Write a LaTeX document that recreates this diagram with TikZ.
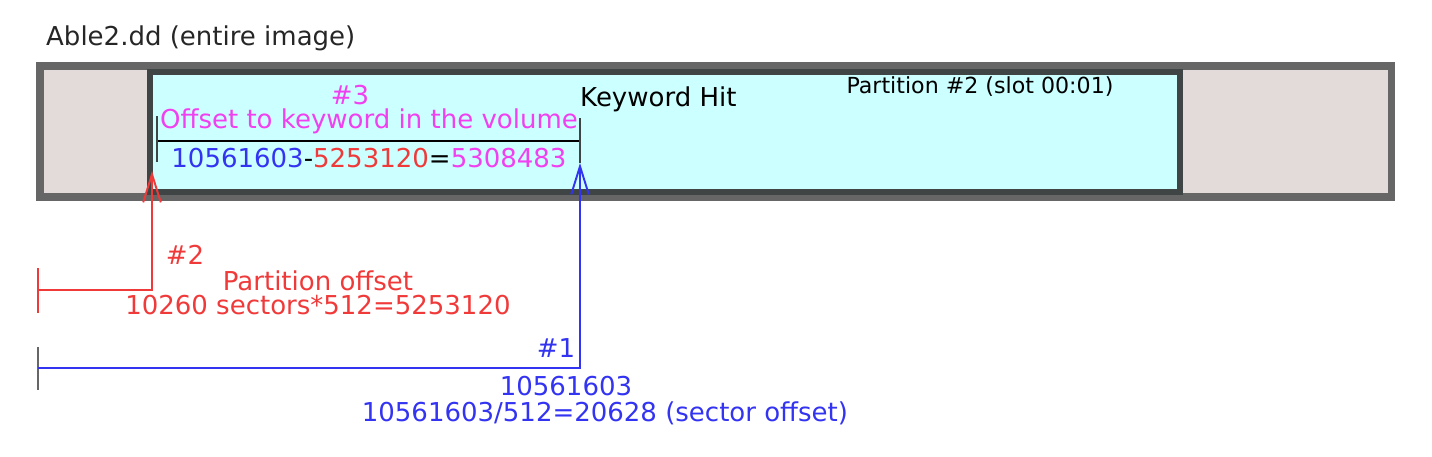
\documentclass[tikz,border=0pt]{standalone}
\usepackage{fontspec}
\setmainfont{DejaVu Sans}
\usetikzlibrary{arrows.meta}
\definecolor{diskedge}{HTML}{666666}
\definecolor{diskfill}{HTML}{E3DADA}
\definecolor{partedge}{HTML}{3F4545}
\definecolor{partfill}{HTML}{CCFFFF}
\definecolor{hitblue}{HTML}{3333F2}
\definecolor{offred}{HTML}{F03A3A}
\definecolor{volmag}{HTML}{F040F0}
\begin{document}
\begin{tikzpicture}[x=0.02cm,y=-0.02cm,font=\fontsize{14.8}{17}\selectfont,
		tick/.style={partedge,line width=1.6pt},
		ptr/.style={line width=1.1pt,-{Straight Barb[length=16pt,width=10pt]}}]
		\useasboundingbox (0,0) rectangle (1432,456);

		\filldraw[fill=diskfill,draw=diskedge,line width=4pt] (40,66) rectangle (1391,197);
		\filldraw[fill=partfill,draw=partedge,line width=3.6pt] (150,72) rectangle (1180,192);

		\node[anchor=west,text=black!85] (title) at (40,38) {Able2.dd (entire image)};
		\node[anchor=west] (hit) at (574,99) {Keyword Hit};
		\node[font=\fontsize{12.6}{15}\selectfont] (slot) at (980,87) {Partition \#2 (slot 00:01)};

		\node[volmag] (n3) at (350,95) {\#3};
		\node[volmag] (off3) at (369,121) {Offset to keyword in the volume};
		\node (calc) at (369,158) {\textcolor{hitblue}{10561603}-\textcolor{offred}{5253120}=\textcolor{volmag}{5308483}};

		\coordinate (volstart) at (157,141);
		\coordinate (hitpos) at (580,141);
		\draw[line width=1.3pt] (volstart) -- (hitpos);
		\draw[tick] (157,116) -- (157,162);
		\draw[tick] (580,118) -- (580,163);

		\coordinate (imgstart2) at (38,290);
		\coordinate (partstart) at (152,171);
		\draw[offred,line width=1.1pt] (38,268) -- (38,313);
		\draw[ptr,offred] (imgstart2) -| (partstart);
		\node[offred] (n2) at (185,255) {\#2};
		\node[offred] (poff) at (318,281) {Partition offset};
		\node[offred] (psec) at (318,305) {10260 sectors*512=5253120};

		\coordinate (imgstart1) at (38,368);
		\coordinate (hitarrow) at (580,163);
		\draw[diskedge,line width=1.4pt] (38,347) -- (38,390);
		\draw[ptr,hitblue] (imgstart1) -| (hitarrow);
		\node[hitblue] (n1) at (556,348) {\#1};
		\node[hitblue] (hoff) at (566,386) {10561603};
		\node[hitblue] (hsec) at (605,413) {10561603/512=20628 (sector offset)};
	\end{tikzpicture}
\end{document}
